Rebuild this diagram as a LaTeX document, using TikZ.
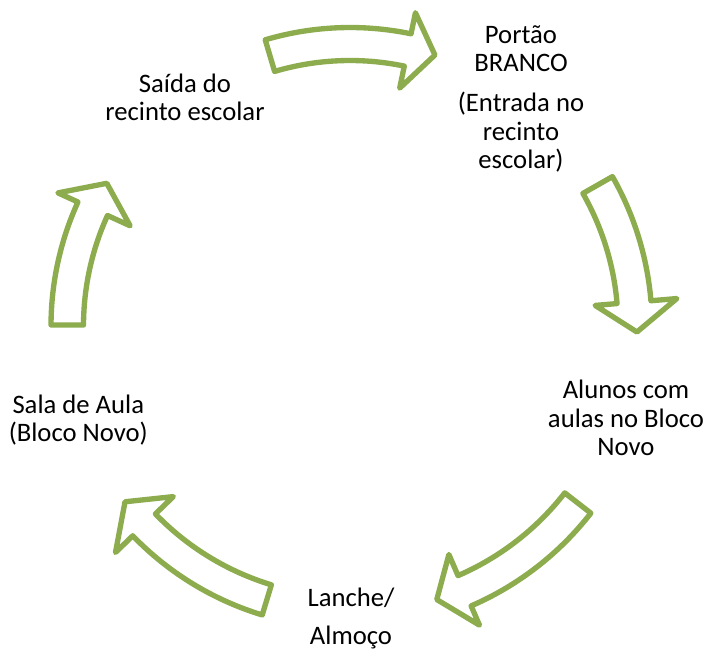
\documentclass[tikz,border=0pt]{standalone}
\usepackage{fontspec}
\setmainfont{Carlito}
\definecolor{cyclegreen}{RGB}{140,172,78}
\tikzset{
  cyclearrow/.style={draw=cyclegreen, line width=4pt, line join=round, fill=white},
  cyclelabel/.style={align=center, anchor=base, inner sep=0pt, font=\fontsize{20}{21.2}\selectfont}
}
% #1 tail angle, #2 head base angle, #3 tip angle, #4 inner r, #5 outer r,
% #6 head inner r, #7 head outer r, #8 tip r
\newcommand{\blockarrow}[8]{%
  \draw[cyclearrow] (#1:#5) arc[start angle=#1, end angle=#2, radius=#5]
    -- (#2:#7) -- (#3:#8) -- (#2:#6) -- (#2:#4)
    arc[start angle=#2, end angle=#1, radius=#4] -- cycle;
}
\begin{document}
\begin{tikzpicture}[x=0.75pt,y=-0.75pt]
\useasboundingbox (0,0) rectangle (707,649);
\begin{scope}[shift={(350,326)}, yscale=-1]
  \blockarrow{106.5}{78.2}{72.6}{265.5}{298.5}{243}{320}{284}
  \blockarrow{29.65}{4.8}{-1.2}{268}{302}{246}{328}{287}
  \blockarrow{-37.85}{-66.6}{-72.4}{272}{305}{249}{326}{287}
  \blockarrow{-106.9}{-136}{-142}{270.5}{302}{245.6}{326}{285.5}
  \blockarrow{179.8}{155.5}{149.6}{266.5}{299}{241.6}{321}{282}
\end{scope}
\node[cyclelabel] (portao) at (521,168.3) {Portão\\BRANCO\\[8.8pt](Entrada no\\recinto\\escolar)};
\node[cyclelabel] (alunos) at (626,455.3) {Alunos com\\aulas no Bloco\\Novo};
\node[cyclelabel] (lanche) at (351,644.3) {Lanche/\\[7.5pt]Almoço};
\node[cyclelabel] (sala) at (78.3,441.5) {Sala de Aula\\(Bloco Novo)};
\node[cyclelabel] (saida) at (185,120.5) {Saída do\\recinto escolar};
\end{tikzpicture}
\end{document}
